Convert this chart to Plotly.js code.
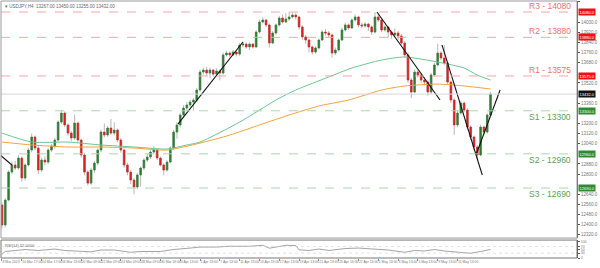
<!DOCTYPE html>
<html><head><meta charset="utf-8">
<script src="https://cdn.plot.ly/plotly-3.0.1.min.js"></script>
<style>html,body{margin:0;padding:0;background:#fff;}#chart{width:600px;height:268px;}</style>
</head><body><div id="chart"></div>
<script>
const opens=[12556,12398,12595,12816,12872,12848,12927,12769,12872,12990,
13093,13006,12832,12911,12895,12990,13022,13069,13211,13282,
13188,13124,13085,13203,13069,12951,12816,12729,12832,12887,
12990,13132,13109,13164,13124,13148,13069,12990,12872,12816,
12753,12698,12793,12848,12911,12935,12974,12990,12927,12872,
12832,12895,13006,13132,13188,13267,13322,13346,13369,13385,
13464,13606,13622,13598,13622,13590,13614,13598,13741,13756,
13741,13764,13748,13820,13827,13804,13827,13804,13922,14001,
14017,13978,13835,13914,13978,14033,14001,14025,14041,14056,
14041,13962,13883,13859,13804,13764,13796,13859,13922,13914,
13899,13756,13780,13859,13938,13978,13954,14017,14041,13978,
13970,13985,13962,13922,14041,14017,13938,13962,13922,13899,
13914,13891,13835,13741,13543,13448,13606,13583,13543,13527,
13448,13583,13662,13756,13717,13677,13527,13385,13188,13282,
13361,13306,13172,13093,13014,12951,13172,13132,13267];
const highs=[12575,12610,12830,12900,12905,12950,12940,12885,13010,13120,
13105,13020,12930,12940,13005,13040,13085,13225,13300,13295,
13200,13140,13270,13215,13080,12965,12830,12850,12905,13005,
13150,13200,13180,13235,13210,13160,13085,13000,12890,12830,
12770,12810,12860,12925,12960,12990,13020,13000,12940,12885,
12910,13020,13150,13210,13285,13345,13370,13385,13400,13480,
13625,13640,13645,13640,13630,13635,13630,13760,13775,13770,
13780,13775,13835,13845,13840,13840,13835,13935,14020,14040,
14025,13990,13930,13990,14050,14060,14070,14080,14075,14070,
14050,13975,13900,13870,13815,13810,13870,13940,13945,13930,
13910,13800,13870,13955,13995,13990,14030,14060,14050,13995,
14000,13995,13975,14080,14070,14025,13975,13970,13935,13950,
13930,13905,13850,13760,13560,13625,13620,13600,13565,13540,
13600,13680,13830,13770,13820,13690,13540,13400,13300,13380,
13375,13320,13185,13105,13030,13190,13185,13280,13450];
const lows=[12370,12380,12585,12800,12830,12835,12740,12750,12860,12975,
12990,12800,12815,12870,12880,12975,13000,13055,13195,13170,
13100,13060,13070,13050,12930,12790,12710,12715,12810,12870,
12975,13090,13095,13110,13105,13050,12970,12850,12790,12720,
12640,12680,12700,12830,12895,12920,12960,12910,12860,12790,
12820,12885,12995,13080,13170,13250,13300,13330,13300,13370,
13450,13585,13580,13560,13570,13575,13540,13585,13730,13725,
13735,13730,13735,13800,13790,13780,13790,13795,13910,13990,
13960,13800,13825,13900,13965,13990,13995,14010,14030,14020,
13940,13860,13830,13760,13745,13750,13785,13850,13895,13880,
13720,13740,13770,13850,13925,13940,13945,14005,13960,13950,
13955,13930,13900,13910,14000,13920,13925,13880,13870,13885,
13860,13820,13720,13520,13400,13440,13565,13520,13500,13420,
13435,13570,13650,13700,13660,13505,13360,13110,13170,13270,
13290,13150,13070,12990,12920,12940,13110,13120,13255];
const closes=[12398,12595,12816,12872,12848,12927,12769,12872,12990,13093,
13006,12832,12911,12895,12990,13022,13069,13211,13282,13188,
13124,13085,13203,13069,12951,12816,12729,12832,12887,12990,
13132,13109,13164,13124,13148,13069,12990,12872,12816,12753,
12698,12793,12848,12911,12935,12974,12990,12927,12872,12832,
12895,13006,13132,13188,13267,13322,13346,13369,13385,13464,
13606,13622,13598,13622,13590,13614,13598,13741,13756,13741,
13764,13748,13820,13827,13804,13827,13804,13922,14001,14017,
13978,13835,13914,13978,14033,14001,14025,14041,14056,14041,
13962,13883,13859,13804,13764,13796,13859,13922,13914,13899,
13756,13780,13859,13938,13978,13954,14017,14041,13978,13970,
13985,13962,13922,14041,14017,13938,13962,13922,13899,13914,
13891,13835,13741,13543,13448,13606,13583,13543,13527,13448,
13583,13662,13756,13717,13677,13527,13385,13188,13282,13361,
13306,13172,13093,13014,12951,13172,13132,13267,13432];

const dateTickIdx=[0,6,12,18,24,30,36,42,48,54,60,66,72,78,84,90,96,102,108,114,120,126,132,138];
const dateLabels=["8 Mar 2023","10 Mar 17:00","14 Mar 17:00","16 Mar 13:00","20 Mar 09:00","22 Mar 09:00","24 Mar 09:00","28 Mar 09:00","30 Mar 09:00","3 Apr 13:00","5 Apr 13:00","7 Apr 13:00","11 Apr 13:00","13 Apr 13:00","17 Apr 13:00","19 Apr 13:00","21 Apr 13:00","25 Apr 13:00","27 Apr 13:00","1 May 13:00","3 May 13:00","5 May 13:00","9 May 13:00","11 May 13:00"];

const maFastIdx=[0,9,20,30,40,50,56,60,72,83,89,99,106,115,122,132,140,144,148];
const maFastVal=[13124,13053,13053,13030,13014,12998,13030,13053,13211,13385,13464,13567,13638,13701,13725,13685,13638,13582,13543];
const maSlowIdx=[0,9,20,30,40,50,60,69,78,87,96,105,115,122,132,140,148];
const maSlowVal=[13053,13030,13014,13014,13006,12990,13045,13108,13188,13267,13338,13385,13464,13496,13511,13496,13472];

const levelNames=["R3","R2","R1","S1","S2","S3"];
const levelValues=[14080,13880,13575,13300,12960,12690];

const trendStartIdx=[-0.6,53.3,113.6,133.3,143.6];
const trendStartVal=[12951,13195,14080,13820,12951];
const trendEndIdx=[3,73,132.7,145.5,150.9];
const trendEndVal=[12872,13843,13385,12793,13464];

const rsiIdx=[0,1,4,7,11,16,19,24,27,30,34,39,42,48,52,57,60,65,69,75,79,81,83,86,89,90,93,96,99,104,108,113,117,122,125,128,131,134,139,142,145,148];
const rsiVal=[23,40,46,52,46,55,46,43,38,49,49,35,40,40,52,61,67,67,72,72,78,60,68,78,76,50,46,55,46,58,61,55,49,35,46,43,52,43,35,29,40,52];

const idx=closes.map((_,i)=>i);
const bodyHigh=opens.map((o,i)=>Math.max(o,closes[i]));
const bodyLow=opens.map((o,i)=>Math.min(o,closes[i]));
const last=closes.length-1;
const FONT="Liberation Sans, Arial, sans-serif";
const GREEN="#2f7d32", RED="#d42222", WICK="#b9b9b9";

const traces=[
 {type:"candlestick",x:idx,open:opens,high:highs,low:lows,close:closes,xaxis:"x",yaxis:"y",
  increasing:{line:{color:WICK,width:1},fillcolor:WICK},decreasing:{line:{color:WICK,width:1},fillcolor:WICK},
  whiskerwidth:0,hoverinfo:"skip",showlegend:false},
 {type:"candlestick",x:idx,open:opens,high:bodyHigh,low:bodyLow,close:closes,xaxis:"x",yaxis:"y",
  increasing:{line:{color:GREEN,width:0.5},fillcolor:GREEN},decreasing:{line:{color:RED,width:0.5},fillcolor:RED},
  whiskerwidth:0,hoverinfo:"skip",showlegend:false},
 {type:"scatter",mode:"lines",x:maFastIdx,y:maFastVal,line:{color:"#6cc68f",width:1,shape:"spline",smoothing:0.6},xaxis:"x",yaxis:"y",showlegend:false},
 {type:"scatter",mode:"lines",x:maSlowIdx,y:maSlowVal,line:{color:"#f5a33c",width:1,shape:"spline",smoothing:0.6},xaxis:"x",yaxis:"y",showlegend:false},
 {type:"scatter",mode:"lines",x:rsiIdx,y:rsiVal,line:{color:"#8c8c8c",width:0.8},xaxis:"x",yaxis:"y2",showlegend:false}
];
for(let k=0;k<trendStartIdx.length;k++){
 traces.push({type:"scatter",mode:"lines",x:[trendStartIdx[k],trendEndIdx[k]],y:[trendStartVal[k],trendEndVal[k]],
  line:{color:"#111",width:1.1},xaxis:"x",yaxis:"y",showlegend:false});
}

const shapes=[];
const annotations=[];
levelValues.forEach((v,k)=>{
 const isR=levelNames[k][0]==="R";
 shapes.push({type:"line",xref:"paper",x0:0,x1:1,yref:"y",y0:v,y1:v,line:{color:isR?"#f6a5a5":"#acd6ac",width:1,dash:"dash"}});
 annotations.push({xref:"paper",x:0.991,xanchor:"right",yref:"y",y:v,yanchor:isR?"bottom":"top",showarrow:false,
  text:levelNames[k]+" - "+v,font:{family:FONT,size:8.5,color:isR?"#f27070":"#5c9e5c"},borderpad:0});
 annotations.push({xref:"paper",x:1,xanchor:"left",xshift:1,yref:"y",y:v,yanchor:"middle",showarrow:false,
  text:v.toFixed(1),bgcolor:isR?"#ee1111":"#2e8b2e",font:{family:FONT,size:4,color:"#fff"},borderpad:0.5});
});
shapes.push({type:"line",xref:"paper",x0:0,x1:1,yref:"y",y0:closes[last],y1:closes[last],line:{color:"#d6d6d6",width:1}});
annotations.push({xref:"paper",x:1,xanchor:"left",xshift:1,yref:"y",y:closes[last],yanchor:"middle",showarrow:false,
 text:closes[last].toFixed(1),bgcolor:"#111",font:{family:FONT,size:4,color:"#fff"},borderpad:0.5});

// plot area spans pixel rows 1..258 (margin t=1, b=10)
const MAIN_BOTTOM=0.0776, SUB_TOP=0.0698;
shapes.push({type:"rect",xref:"paper",yref:"paper",x0:0,x1:1,y0:MAIN_BOTTOM,y1:1,line:{color:"#9a9a9a",width:1}});
shapes.push({type:"rect",xref:"paper",yref:"paper",x0:0,x1:1,y0:0.0,y1:SUB_TOP,line:{color:"#777",width:1}});
[30,70].forEach(v=>shapes.push({type:"line",xref:"paper",x0:0,x1:1,yref:"y2",y0:v,y1:v,line:{color:"#cfcfcf",width:0.6,dash:"dot"}}));

annotations.push({xref:"paper",yref:"paper",x:0.004,y:1,xanchor:"left",yanchor:"top",showarrow:false,yshift:-1,
 text:"▾ USDJPY,H4  "+opens[last].toFixed(2)+" "+highs[last].toFixed(2)+" "+lows[last].toFixed(2)+" "+closes[last].toFixed(2),
 font:{family:FONT,size:4.5,color:"#666"}});
annotations.push({xref:"paper",yref:"paper",x:0.004,y:SUB_TOP,xanchor:"left",yanchor:"top",showarrow:false,yshift:-1,
 text:"RSI(14) "+rsiVal[rsiVal.length-1].toFixed(4),font:{family:FONT,size:4,color:"#666"}});

const boxed=levelValues.concat([closes[last]]);
const priceTicks=[];
for(let t=12320;t<=14160;t+=80){ if(boxed.every(b=>Math.abs(b-t)>30)) priceTicks.push(t); }

const layout={
 width:600,height:268,margin:{l:1,r:23,t:1,b:10,pad:0},
 paper_bgcolor:"#fff",plot_bgcolor:"#fff",showlegend:false,boxmode:"overlay",
 font:{family:FONT,size:4.5,color:"#777"},
 xaxis:{range:[-0.3,174.2],anchor:"y2",rangeslider:{visible:false},showgrid:false,zeroline:false,
  tickmode:"array",tickvals:dateTickIdx,ticktext:dateLabels,ticks:"outside",ticklen:1.5,tickcolor:"#888",
  tickangle:0,ticklabelposition:"outside right",tickfont:{family:FONT,size:3.4,color:"#777"},showline:false},
 yaxis:{domain:[MAIN_BOTTOM,1],range:[12295,14167],side:"right",anchor:"x",showgrid:false,zeroline:false,
  showline:true,linecolor:"#555",linewidth:1,ticks:"outside",ticklen:2,tickcolor:"#555",
  tickmode:"array",tickvals:priceTicks,ticktext:priceTicks.map(t=>t.toFixed(1)),tickfont:{family:FONT,size:4.5,color:"#777"}},
 yaxis2:{domain:[0,SUB_TOP],range:[0,110],side:"right",anchor:"x",showgrid:false,zeroline:false,
  showline:true,linecolor:"#555",linewidth:1,ticks:"outside",ticklen:2,tickcolor:"#555",
  tickmode:"array",tickvals:[0,30,50,70,100],tickfont:{family:FONT,size:3.5,color:"#777"}},
 shapes:shapes,annotations:annotations
};
Plotly.newPlot("chart",traces,layout,{displayModeBar:false,staticPlot:true});
</script></body></html>
